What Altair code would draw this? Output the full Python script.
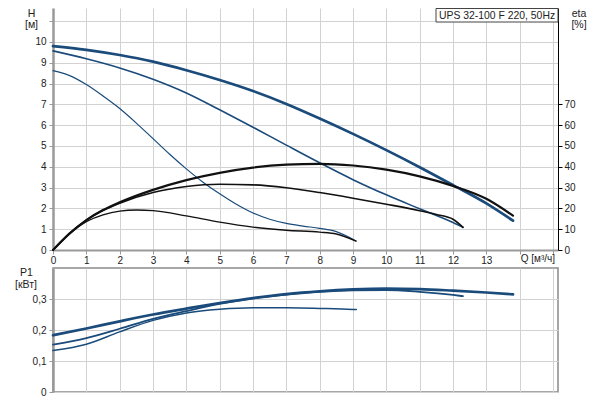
import altair as alt
import pandas as pd

# ---- H(Q) curves [м]
Q_H1 = [0, 1, 2, 3, 4, 5, 6, 7, 8, 9, 10, 11, 12, 13, 13.8]
H_1 = [9.80, 9.62, 9.37, 9.05, 8.64, 8.17, 7.64, 7.02, 6.32, 5.58, 4.80, 3.98, 3.12, 2.24, 1.41]
Q_H2 = [0, 1, 2, 3, 4, 5, 6, 7, 8, 9, 10, 11, 12, 12.3]
H_2 = [9.57, 9.19, 8.75, 8.21, 7.55, 6.74, 5.90, 5.04, 4.19, 3.38, 2.65, 1.98, 1.32, 1.09]
Q_H3 = [0, 0.5, 1, 1.5, 2, 2.5, 3, 3.5, 4, 4.5, 5, 5.5, 6, 6.5, 7, 7.5, 8, 8.5, 9.09]
H_3 = [8.62, 8.38, 7.95, 7.40, 6.80, 6.10, 5.35, 4.60, 3.90, 3.26, 2.70, 2.20, 1.78, 1.48, 1.28, 1.15, 1.04, 0.88, 0.43]

# ---- eta(Q) [%]
Q_E1 = [0, 0.5, 1, 1.5, 2, 3, 4, 5, 6, 7, 8, 9, 10, 11, 12, 13, 13.8]
ETA_1 = [0, 8.0, 14.4, 19.2, 22.9, 28.9, 33.6, 37.1, 39.6, 41.0, 41.4, 40.6, 38.6, 35.4, 30.8, 24.6, 16.5]
Q_E2 = [0, 0.5, 1, 1.5, 2, 3, 4, 5, 6, 7, 8, 9, 10, 11, 11.5, 12, 12.3]
ETA_2 = [0, 8.0, 14.4, 19.0, 22.5, 27.6, 30.5, 31.6, 31.3, 29.9, 27.6, 24.9, 22.0, 18.9, 17.1, 14.8, 10.9]
Q_E3 = [0, 0.5, 1, 1.5, 2, 2.5, 3, 4, 5, 6, 7, 8, 8.5, 9.09]
ETA_3 = [0, 7.8, 13.6, 16.9, 18.7, 19.2, 18.9, 16.4, 13.4, 11.0, 9.5, 8.6, 7.7, 4.3]

# ---- P1(Q) [кВт]
Q_P1 = [0, 1, 2, 3, 4, 5, 6, 7, 8, 9, 10, 11, 12, 13, 13.8]
P_1 = [0.183, 0.205, 0.228, 0.250, 0.269, 0.287, 0.303, 0.316, 0.325, 0.331, 0.3335, 0.332, 0.327, 0.321, 0.315]
Q_P2 = [0, 1, 2, 3, 4, 5, 6, 7, 8, 9, 10, 11, 12, 12.3]
P_2 = [0.153, 0.174, 0.204, 0.236, 0.261, 0.284, 0.302, 0.314, 0.323, 0.328, 0.329, 0.323, 0.313, 0.309]
Q_P3 = [0, 1, 2, 3, 4, 5, 6, 7, 8, 9, 9.1]
P_3 = [0.1335, 0.154, 0.194, 0.231, 0.255, 0.267, 0.272, 0.2715, 0.2695, 0.2665, 0.266]

X_TICKS = [float(v) for v in range(16)]
H_TICKS = list(range(12))
ETA_TICKS = [0, 10, 20, 30, 40, 50, 60, 70]
P_TICKS = [0, 0.1, 0.2, 0.3]

TITLE = "UPS 32-100 F 220, 50Hz"
BLUE = "#1a4b7b"
BLACK = "#111111"
GRID = "#d2d2d2"
AXGRAY = "#9a9a9a"
FONT = "Liberation Sans"

W = 505
H_TOP = 242
H_BOT = 124
Q_MAX = 15.15
H_MAX = 11.63
ETA_MAX = 116.3
P_MAX = 0.4


def frame(q, v, name, w):
    return pd.DataFrame({"Q": q, "v": v, "s": name, "w": w})


df_h = pd.concat([frame(Q_H1, H_1, "a", 2.7), frame(Q_H2, H_2, "b", 1.6), frame(Q_H3, H_3, "c", 1.2)])
df_e = pd.concat([frame(Q_E1, ETA_1, "a", 2.2), frame(Q_E2, ETA_2, "b", 1.6), frame(Q_E3, ETA_3, "c", 1.4)])
df_p = pd.concat([frame(Q_P1, P_1, "a", 2.7), frame(Q_P2, P_2, "b", 1.8), frame(Q_P3, P_3, "c", 1.5)])

xscale = alt.Scale(domain=[0, Q_MAX], nice=False, zero=False)

x_axis_top = alt.Axis(
    values=X_TICKS, tickCount=16, labelExpr="datum.value <= 13 ? datum.label : ''",
    grid=True, gridColor=GRID, domainColor=AXGRAY, domainWidth=2,
    tickColor=AXGRAY, tickSize=4, labelPadding=1, labelFlush=False,
    labelOverlap=False, labelFontSize=10, labelColor="#222",
    labelFont=FONT, title=None,
)

h_lines = alt.Chart(df_h).mark_line(color=BLUE, interpolate="monotone", strokeCap="round").encode(
    x=alt.X("Q:Q", scale=xscale, axis=x_axis_top),
    y=alt.Y("v:Q", scale=alt.Scale(domain=[0, H_MAX], nice=False, zero=True),
            axis=alt.Axis(values=H_TICKS, labelExpr="datum.value <= 10 ? datum.label : ''",
                          grid=True, gridColor=GRID, domainColor=AXGRAY, domainWidth=2.5,
                          tickColor=AXGRAY, tickSize=4, labelPadding=3, labelFontSize=10,
                          labelColor="#222", labelFont=FONT, title=None, orient="left")),
    detail="s:N",
    strokeWidth=alt.StrokeWidth("w:Q", scale=None),
)

e_lines = alt.Chart(df_e).mark_line(color=BLACK, interpolate="monotone", strokeCap="round").encode(
    x=alt.X("Q:Q", scale=xscale, axis=x_axis_top),
    y=alt.Y("v:Q", scale=alt.Scale(domain=[0, ETA_MAX], nice=False, zero=True),
            axis=alt.Axis(values=ETA_TICKS, grid=False, domainColor="#000", domainWidth=1,
                          tickColor="#000", tickSize=4, labelPadding=2, labelFontSize=10,
                          labelColor="#222", labelFont=FONT, title=None, orient="right")),
    detail="s:N",
    strokeWidth=alt.StrokeWidth("w:Q", scale=None),
)


def label(txt, x, y, align="center", size=10.5):
    return alt.Chart(pd.DataFrame({"t": [txt]})).mark_text(
        align=align, baseline="middle", fontSize=size, font=FONT, color="#222"
    ).encode(x=alt.value(x), y=alt.value(y), text="t:N")


q_label = alt.Chart(pd.DataFrame({"t": ["Q [м³/ч]"], "q": [14]})).mark_text(
    align="left", baseline="middle", fontSize=10, font=FONT, color="#222", dx=1
).encode(x=alt.X("q:Q", scale=xscale, axis=x_axis_top), y=alt.value(H_TOP + 9), text="t:N")

title_box = alt.Chart(pd.DataFrame({"t": [TITLE]})).mark_rect(
    fill="white", stroke="#444", strokeWidth=1
).encode(x=alt.value(383), x2=alt.value(W), y=alt.value(0.5), y2=alt.value(14))

top = alt.layer(
    h_lines, e_lines, q_label, title_box,
    label(TITLE, 386, 7.5, align="left", size=10.4),
    label("H", -21.5, 6), label("[м]", -21.5, 17),
    label("eta", 526, 6), label("[%]", 526, 17),
).resolve_scale(y="independent").properties(
    width=W, height=H_TOP, view=alt.ViewBackground(stroke=None)
)

p_lines = alt.Chart(df_p).mark_line(color=BLUE, interpolate="monotone", strokeCap="round").encode(
    x=alt.X("Q:Q", scale=xscale,
            axis=alt.Axis(values=X_TICKS, tickCount=16, labels=False, ticks=False, domain=False,
                          grid=True, gridColor=GRID, title=None)),
    y=alt.Y("v:Q", scale=alt.Scale(domain=[0, P_MAX], nice=False, zero=True),
            axis=alt.Axis(values=P_TICKS,
                          labelExpr="datum.value == 0 ? '0' : replace(format(datum.value, '.1f'), '.', ',')",
                          grid=True, gridColor=GRID, domainColor=AXGRAY, domainWidth=2.5,
                          tickColor=AXGRAY, tickSize=4, labelPadding=3, labelFontSize=10,
                          labelColor="#222", labelFont=FONT, title=None)),
    detail="s:N",
    strokeWidth=alt.StrokeWidth("w:Q", scale=None),
)

bottom = alt.layer(
    p_lines,
    label("P1", -26.5, 4.5),
    label("[кВт]", -38, 17, align="left"),
).properties(
    width=W, height=H_BOT,
    view=alt.ViewBackground(stroke="#8a8a8a", strokeWidth=1.5)
)

chart = alt.vconcat(top, bottom, spacing=18, bounds="flush").properties(
    padding={"left": 6, "top": 0, "right": 0, "bottom": 0}
).configure(background="white")

chart.save("out.html", embed_options={"renderer": "svg", "actions": False})
